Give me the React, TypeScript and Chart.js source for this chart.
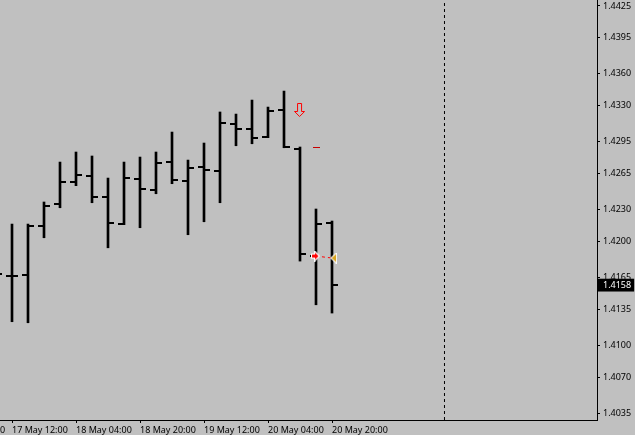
import React, { useEffect, useRef } from "react";
import { Chart, registerables } from "chart.js";

Chart.register(...registerables);

const barIndex = [0, 1, 2, 3, 4, 5, 6, 7, 8, 9, 10, 11, 12, 13, 14, 15, 16, 17, 18, 19, 20, 21];
const highs = [1.4175, 1.42164, 1.42164, 1.42375, 1.42757, 1.42853, 1.42815, 1.42604, 1.42757, 1.42805, 1.42853, 1.43044, 1.42776, 1.42939, 1.43236, 1.43216, 1.4335, 1.43283, 1.43436, 1.42901, 1.42308, 1.42193];
const lows = [1.4165, 1.4123, 1.4122, 1.42033, 1.4232, 1.42531, 1.42368, 1.41937, 1.42158, 1.42129, 1.42454, 1.4255, 1.42062, 1.42186, 1.42368, 1.42913, 1.42932, 1.4299, 1.42894, 1.4181, 1.41392, 1.41313];
const opens = [1.417, 1.41667, 1.41679, 1.42148, 1.42358, 1.42569, 1.42626, 1.42422, 1.42164, 1.42598, 1.42492, 1.4276, 1.42578, 1.42712, 1.42674, 1.43124, 1.43076, 1.42999, 1.43258, 1.42885, 1.41858, 1.42177];
const closes = [1.41686, 1.41667, 1.42148, 1.42339, 1.42569, 1.42633, 1.42422, 1.42177, 1.42607, 1.42502, 1.42751, 1.42588, 1.42703, 1.42684, 1.43133, 1.43076, 1.4299, 1.43248, 1.42904, 1.4188, 1.42167, 1.4158];

const priceTicks = [1.4425, 1.4395, 1.436, 1.433, 1.4295, 1.4265, 1.423, 1.42, 1.4165, 1.4135, 1.41, 1.407, 1.4035];
const currentPrice = 1.4158;
const timeTickIndex = [0.25, 1, 5, 9, 13, 17, 21];
const timeTickLabels = ["0", "17 May 12:00", "18 May 04:00", "18 May 20:00", "19 May 12:00", "20 May 04:00", "20 May 20:00"];

const xRange = [0.25, 37.5625];
const yRange = [1.4029, 1.44307];
const cursorIndex = 28.03;
const sellMarker = { x: 18.97, y: 1.43255 };
const stopDash = { x: 20.03, y: 1.42901 };
const tradeLine = [
  { x: 20, y: 1.41858 },
  { x: 21, y: 1.41839 },
];
const entryMarker = { x: 19.97, y: 1.41858 };
const exitMarker = { x: 21.1, y: 1.41839 };

function icon(w: number, h: number, draw: (c: CanvasRenderingContext2D) => void) {
  const cv = document.createElement("canvas");
  cv.width = w;
  cv.height = h;
  draw(cv.getContext("2d") as CanvasRenderingContext2D);
  return cv;
}

function poly(c: CanvasRenderingContext2D, pts: number[][]) {
  c.beginPath();
  pts.forEach((p, i) => (i ? c.lineTo(p[0], p[1]) : c.moveTo(p[0], p[1])));
  c.closePath();
}

function noPadding(s: any) {
  s.paddingLeft = 0;
  s.paddingRight = 0;
  s.paddingTop = 0;
  s.paddingBottom = 0;
}

export default function App() {
  const ref = useRef<HTMLCanvasElement>(null);
  useEffect(() => {
    const leftTick = icon(12, 2, (c) => {
      c.fillStyle = "#000";
      c.fillRect(0, 0, 6, 2);
    });
    const rightTick = icon(12, 2, (c) => {
      c.fillStyle = "#000";
      c.fillRect(6, 0, 6, 2);
    });
    const downArrow = icon(11, 14, (c) => {
      c.strokeStyle = "#ff0000";
      c.lineWidth = 1;
      poly(c, [[3.5, 0.5], [7.5, 0.5], [7.5, 8.5], [10.5, 8.5], [5.5, 13.5], [0.5, 8.5], [3.5, 8.5]]);
      c.stroke();
    });
    const dash = icon(7, 1, (c) => {
      c.fillStyle = "#c80000";
      c.fillRect(0, 0, 7, 1);
    });
    const entry = icon(9, 11, (c) => {
      poly(c, [[0, 3], [3, 3], [3, 0], [4, 0], [9, 5.5], [4, 11], [3, 11], [3, 8], [0, 8]]);
      c.fillStyle = "#fff";
      c.fill();
      poly(c, [[1, 4], [4, 4], [4, 2], [7.5, 5.5], [4, 9], [4, 7], [1, 7]]);
      c.fillStyle = "#ff0000";
      c.fill();
    });
    const exit = icon(7, 11, (c) => {
      poly(c, [[6, 0], [7, 0], [7, 11], [6, 11], [0, 5.5]]);
      c.fillStyle = "#fff";
      c.fill();
      poly(c, [[6, 1.5], [6, 9.5], [1.5, 5.5]]);
      c.fillStyle = "#daa520";
      c.fill();
    });

    const ticksY = [...priceTicks, currentPrice];
    const chart = new Chart(ref.current as HTMLCanvasElement, {
      type: "bar",
      data: {
        datasets: [
          {
            type: "bar",
            label: "range",
            data: barIndex.map((x, i) => ({ x, y: [lows[i], highs[i]] })) as any,
            backgroundColor: "#000",
            barThickness: 2,
            grouped: false,
            borderWidth: 0,
            order: 6,
          },
          {
            type: "scatter",
            label: "open",
            data: barIndex.map((x, i) => ({ x, y: opens[i] })),
            pointStyle: leftTick as any,
            order: 5,
          },
          {
            type: "scatter",
            label: "close",
            data: barIndex.map((x, i) => ({ x, y: closes[i] })),
            pointStyle: rightTick as any,
            order: 5,
          },
          {
            type: "line",
            label: "cursor",
            data: [
              { x: cursorIndex, y: yRange[0] },
              { x: cursorIndex, y: yRange[1] },
            ],
            borderColor: "#000",
            borderWidth: 1,
            borderDash: [3, 3],
            pointRadius: 0,
            order: 7,
          },
          {
            type: "line",
            label: "trade",
            data: tradeLine,
            borderColor: "#ff0000",
            borderWidth: 1,
            borderDash: [3, 3],
            pointRadius: 0,
            order: 4,
          },
          { type: "scatter", label: "sell", data: [sellMarker], pointStyle: downArrow as any, order: 3 },
          { type: "scatter", label: "stop", data: [stopDash], pointStyle: dash as any, order: 3 },
          { type: "scatter", label: "entry", data: [entryMarker], pointStyle: entry as any, order: 2 },
          { type: "scatter", label: "exit", data: [exitMarker], pointStyle: exit as any, order: 2 },
        ],
      },
      options: {
        animation: false,
        responsive: false,
        devicePixelRatio: 1,
        events: [],
        layout: { padding: 0, autoPadding: false },
        plugins: { legend: { display: false }, tooltip: { enabled: false } },
        scales: {
          x: {
            type: "linear",
            position: "bottom",
            min: xRange[0],
            max: xRange[1],
            offset: false,
            afterFit: (s: any) => {
              s.height = 15;
              noPadding(s);
            },
            afterBuildTicks: (s: any) => {
              s.ticks = timeTickIndex.map((value) => ({ value }));
            },
            afterTickToLabelConversion: (s: any) => {
              s.ticks.forEach((t: any, i: number) => {
                t.label = timeTickLabels[i];
              });
            },
            border: { display: true, color: "#000", width: 1 },
            grid: {
              offset: false,
              drawOnChartArea: false,
              drawTicks: true,
              tickLength: 3,
              color: (c: any) => (c.index === 0 ? "rgba(0,0,0,0)" : "#000"),
            },
            ticks: {
              autoSkip: false,
              maxRotation: 0,
              minRotation: 0,
              align: "start",
              padding: 2,
              color: "#000",
              font: { family: "Noto Sans", size: 9 },
            },
          },
          y: {
            type: "linear",
            position: "right",
            min: yRange[0],
            max: yRange[1],
            afterFit: (s: any) => {
              s.width = 38;
              noPadding(s);
            },
            afterBuildTicks: (s: any) => {
              s.ticks = ticksY.map((value) => ({ value }));
            },
            afterTickToLabelConversion: (s: any) => {
              s.ticks.forEach((t: any) => {
                t.label = t.value.toFixed(4);
              });
            },
            border: { display: true, color: "#000", width: 1 },
            grid: { offset: false, drawOnChartArea: false, drawTicks: true, tickLength: 3, color: "#000" },
            ticks: {
              autoSkip: false,
              padding: 3,
              color: (c: any) => (c.tick.value === currentPrice ? "#fff" : "#000"),
              showLabelBackdrop: (c: any) => c.tick.value === currentPrice,
              backdropColor: "#000",
              backdropPadding: { left: 5, right: 3, top: 1, bottom: 1 },
              font: { family: "Noto Sans", size: 9 },
            } as any,
          },
        },
      } as any,
    });
    return () => chart.destroy();
  }, []);
  return (
    <div style={{ position: "fixed", left: 0, top: 0, width: 635, height: 435, overflow: "hidden", background: "#c0c0c0" }}>
      <canvas ref={ref} width={635} height={435} style={{ display: "block" }} />
    </div>
  );
}
